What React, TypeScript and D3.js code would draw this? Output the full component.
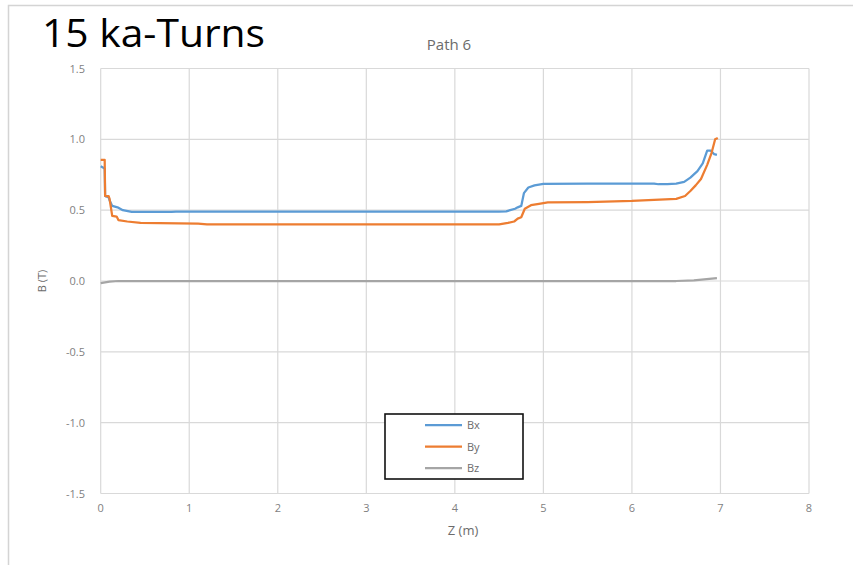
import React from "react";
import * as d3 from "d3";

// Field components along path 6
const bxZ = [0, 0.03, 0.045, 0.05, 0.09, 0.1, 0.13, 0.19, 0.25, 0.35, 0.8, 0.85, 4.5, 4.58, 4.68, 4.71, 4.75, 4.78, 4.83, 4.9, 5.0, 5.5, 6.0, 6.25, 6.3, 6.4, 6.5, 6.59, 6.66, 6.74, 6.8, 6.85, 6.89, 6.93, 6.96];
const bxV = [0.81, 0.80, 0.79, 0.60, 0.59, 0.57, 0.53, 0.52, 0.50, 0.488, 0.488, 0.49, 0.49, 0.492, 0.51, 0.52, 0.53, 0.62, 0.66, 0.675, 0.685, 0.688, 0.688, 0.688, 0.683, 0.683, 0.688, 0.70, 0.73, 0.775, 0.83, 0.92, 0.92, 0.895, 0.89];

const byZ = [0, 0.045, 0.05, 0.09, 0.1, 0.13, 0.18, 0.2, 0.3, 0.45, 1.1, 1.2, 4.5, 4.6, 4.67, 4.71, 4.75, 4.79, 4.86, 4.95, 5.05, 5.5, 6.0, 6.5, 6.6, 6.66, 6.72, 6.78, 6.85, 6.9, 6.94, 6.97];
const byV = [0.855, 0.855, 0.60, 0.60, 0.58, 0.46, 0.455, 0.43, 0.42, 0.41, 0.405, 0.40, 0.40, 0.41, 0.42, 0.44, 0.45, 0.51, 0.535, 0.545, 0.555, 0.557, 0.565, 0.58, 0.60, 0.635, 0.675, 0.72, 0.82, 0.905, 1.0, 1.01];

const bzZ = [0, 0.1, 0.2, 6.5, 6.7, 6.96];
const bzV = [-0.015, -0.005, 0, 0, 0.005, 0.02];

const seriesNames = ["Bx", "By", "Bz"];
const seriesColors = ["#5B9BD5", "#ED7D31", "#A5A5A5"];

const xTicks = [0, 1, 2, 3, 4, 5, 6, 7, 8];
const yTicks = [1.5, 1.0, 0.5, 0.0, -0.5, -1.0, -1.5];

const W = 853;
const H = 565;
const left = 100.7;
const right = 809;
const top = 68.5;
const bottom = 493.5;

export default function App() {
  const x = d3.scaleLinear().domain([0, 8]).range([left, right]);
  const y = d3.scaleLinear().domain([-1.5, 1.5]).range([bottom, top]);
  const line = d3
    .line<[number, number]>()
    .x((d) => x(d[0]))
    .y((d) => y(d[1]));

  const series = [
    bxZ.map((z, i) => [z, bxV[i]] as [number, number]),
    byZ.map((z, i) => [z, byV[i]] as [number, number]),
    bzZ.map((z, i) => [z, bzV[i]] as [number, number]),
  ];

  const font = "'Open Sans', 'DejaVu Sans', sans-serif";
  const grid = "#d9d9d9";
  const tickColor = "#7f7f7f";

  return (
    <svg
      width={W}
      height={H}
      style={{ position: "absolute", left: 0, top: 0, background: "#fff" }}
      fontFamily={font}
    >
      <rect x={8.5} y={5.5} width={900} height={700} fill="none" stroke="#d4d4d4" strokeWidth={1.5} />

      <text x={42} y={47} fontSize={38} fill="#000" textLength={223} lengthAdjust="spacingAndGlyphs">
        15 ka-Turns
      </text>
      <text x={449} y={50} fontSize={15} fill="#6b6b6b" textAnchor="middle">
        Path 6
      </text>

      {xTicks.map((t) => (
        <line key={"gx" + t} x1={x(t)} x2={x(t)} y1={top} y2={bottom} stroke={grid} strokeWidth={1.2} />
      ))}
      {yTicks.map((t) => (
        <line key={"gy" + t} x1={left} x2={right} y1={y(t)} y2={y(t)} stroke={grid} strokeWidth={1.2} />
      ))}

      {yTicks.map((t) => (
        <text key={"ty" + t} x={85} y={y(t) + 4} fontSize={11} fill={tickColor} textAnchor="end">
          {t.toFixed(1)}
        </text>
      ))}
      {xTicks.map((t) => (
        <text key={"tx" + t} x={x(t)} y={512} fontSize={11} fill={tickColor} textAnchor="middle">
          {t}
        </text>
      ))}

      <text x={463} y={535} fontSize={13} fill="#6b6b6b" textAnchor="middle">
        Z (m)
      </text>
      <text
        x={0}
        y={0}
        fontSize={11}
        fill="#6b6b6b"
        textAnchor="middle"
        transform={`translate(46, ${y(0)}) rotate(-90)`}
      >
        B (T)
      </text>

      {series.map((pts, i) => (
        <path
          key={seriesNames[i]}
          d={line(pts) || ""}
          fill="none"
          stroke={seriesColors[i]}
          strokeWidth={2.25}
          strokeLinejoin="round"
        />
      ))}

      <rect x={385} y={414} width={138} height={65} fill="#fff" stroke="#111" strokeWidth={1.6} />
      {seriesNames.map((n, i) => (
        <g key={"lg" + n}>
          <line x1={425} x2={462} y1={425 + i * 21.5} y2={425 + i * 21.5} stroke={seriesColors[i]} strokeWidth={2.25} />
          <text x={467} y={425 + i * 21.5 + 4} fontSize={11} fill="#6b6b6b">
            {n}
          </text>
        </g>
      ))}
    </svg>
  );
}
